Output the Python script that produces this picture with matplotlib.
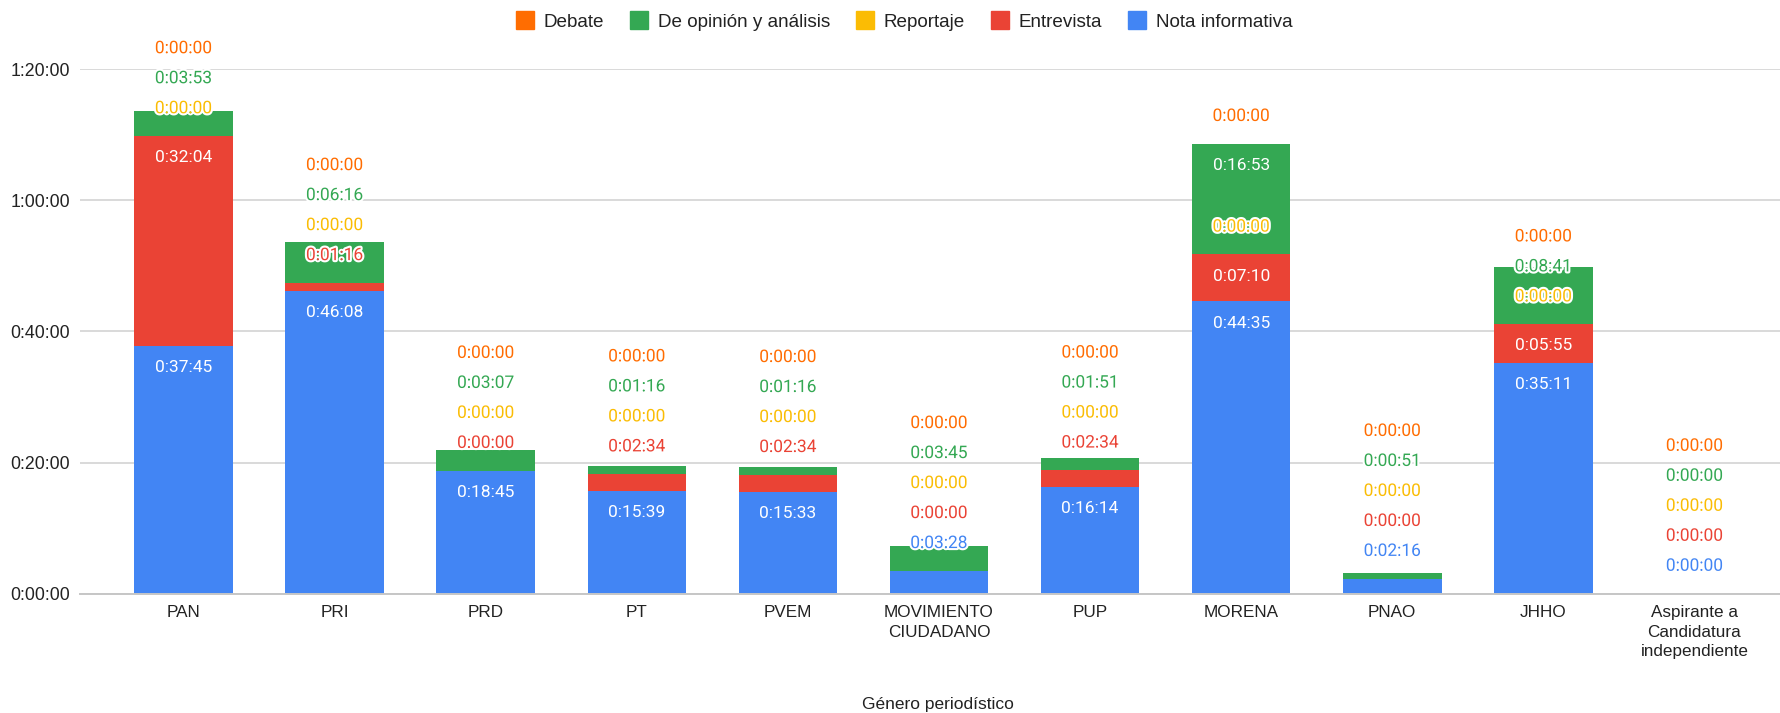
import matplotlib
matplotlib.use("Agg")
import matplotlib.pyplot as plt
import matplotlib.patheffects as pe
from matplotlib.lines import Line2D
import numpy as np

# ---------------- data ----------------
categories = ["PAN", "PRI", "PRD", "PT", "PVEM", "MOVIMIENTO\nCIUDADANO", "PUP",
              "MORENA", "PNAO", "JHHO", "Aspirante a\nCandidatura\nindependiente"]
nota_informativa = ["37:45", "46:08", "18:45", "15:39", "15:33", "3:28", "16:14",
                    "44:35", "2:16", "35:11", "0:00"]
entrevista = ["32:04", "1:16", "0:00", "2:34", "2:34", "0:00", "2:34",
              "7:10", "0:00", "5:55", "0:00"]
reportaje = ["0:00", "0:00", "0:00", "0:00", "0:00", "0:00", "0:00",
             "0:00", "0:00", "0:00", "0:00"]
opinion = ["3:53", "6:16", "3:07", "1:16", "1:16", "3:45", "1:51",
           "16:53", "0:51", "8:41", "0:00"]
debate = ["0:00", "0:00", "0:00", "0:00", "0:00", "0:00", "0:00",
          "0:00", "0:00", "0:00", "0:00"]
y_ticks_min = [0, 20, 40, 60, 80]
x_title = "Género periodístico"

def to_sec(s):
    m, sec = s.split(":")
    return int(m) * 60 + int(sec)

def fmt(sec, pos=None):
    sec = int(round(sec))
    return f"{sec // 3600}:{(sec % 3600) // 60:02d}:{sec % 60:02d}"

# stacking order bottom -> top
series = [
    ("Nota informativa", nota_informativa, "#4285F4"),
    ("Entrevista", entrevista, "#EA4335"),
    ("Reportaje", reportaje, "#FBBC04"),
    ("De opinión y análisis", opinion, "#34A853"),
    ("Debate", debate, "#FF6D01"),
]

AX_FONT = ["Liberation Sans", "DejaVu Sans"]
LBL_FONT = ["Roboto", "DejaVu Sans"]

W, H = 1780, 713
fig = plt.figure(figsize=(W / 100, H / 100), dpi=100)
ax = fig.add_axes([80 / W, (H - 593.6) / H, 1700 / W, (593.6 - 69.3) / H])

x = np.arange(len(categories))
bar_w = 0.652
bottoms = np.zeros(len(categories))
for name, vals, col in series:
    v = np.array([to_sec(s) for s in vals], dtype=float)
    ax.bar(x, v, bar_w, bottom=bottoms, color=col, linewidth=0, zorder=2)
    bottoms = bottoms + v

ax.set_xlim(-0.685, 10.566)
ax.set_ylim(0, 80 * 60)
ax.set_yticks([m * 60 for m in y_ticks_min])
ax.set_yticklabels([fmt(m * 60) for m in y_ticks_min], fontfamily=AX_FONT,
                   fontsize=12.8, color="#222222")
ax.set_xticks(x)
ax.set_xticklabels(categories, fontfamily=AX_FONT, fontsize=12.3,
                   color="#222222", linespacing=1.4)
ax.tick_params(axis="both", length=0)
ax.tick_params(axis="y", pad=7)
ax.tick_params(axis="x", pad=8)
ax.grid(axis="y", color="#d0d0d0", linewidth=1.1, zorder=0)
ax.set_axisbelow(True)
for s in ["top", "right", "left"]:
    ax.spines[s].set_visible(False)
ax.spines["bottom"].set_color("#c6c6c6")
ax.spines["bottom"].set_linewidth(1.4)
ax.spines["bottom"].set_zorder(3)

# ---------------- data labels ----------------
lbl_size = 12.5
lbl_px = lbl_size * 100 / 72
inside_min_px = 30
inside_off = 20
outside_off = 29
spacing = 30
inv = ax.transData.inverted()
for i in range(len(categories)):
    base = 0.0
    prev = -1e9
    for name, vals, col in series:
        v = to_sec(vals[i])
        top = base + v
        _, y_top = ax.transData.transform((i, top))
        _, y_bot = ax.transData.transform((i, base))
        if y_top - y_bot >= inside_min_px:
            pref = y_top - inside_off
            inside = True
        else:
            pref = y_top + outside_off
            inside = False
        pos = max(pref, prev + spacing)
        if pos != pref:
            inside = False
        prev = pos
        _, yd = inv.transform((0, pos - 0.355 * lbl_px))
        if inside:
            ax.text(i, yd, fmt(v), ha="center", va="baseline", color="white",
                    fontsize=lbl_size, fontfamily=LBL_FONT, zorder=5, clip_on=False)
        else:
            ax.text(i, yd, fmt(v), ha="center", va="baseline", color=col,
                    fontsize=lbl_size, fontfamily=LBL_FONT, zorder=5, clip_on=False,
                    path_effects=[pe.withStroke(linewidth=3, foreground="white")])
        base = top

# ---------------- legend ----------------
legend_order = ["Debate", "De opinión y análisis", "Reportaje", "Entrevista", "Nota informativa"]
cmap = {n: c for n, _, c in series}
handles = [Line2D([], [], marker="s", linestyle="none", markersize=13,
                  markerfacecolor=cmap[n], markeredgecolor=cmap[n]) for n in legend_order]
fig.legend(handles, legend_order, ncol=5, loc="center",
           bbox_to_anchor=(904 / W, 1 - 22 / H), frameon=False,
           prop={"family": AX_FONT, "size": 13.6}, labelcolor="#222222",
           handlelength=1.0, handletextpad=0.5, columnspacing=1.35,
           borderpad=0, borderaxespad=0)

fig.text(938 / W, 8 / H, x_title, ha="center", va="center",
         fontfamily=AX_FONT, fontsize=12.5, color="#222222")

fig.savefig("out.png", dpi=100, facecolor="white")
